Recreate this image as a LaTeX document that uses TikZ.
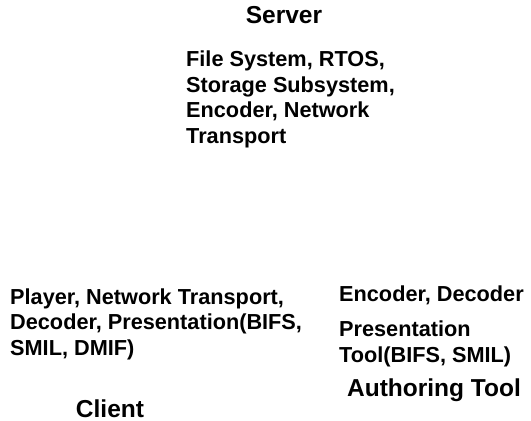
\documentclass[tikz,border=0pt]{standalone}
\usepackage{fontspec}
\setmainfont{Liberation Sans}
\begin{document}
\begin{tikzpicture}[x=1pt, y=-1pt,
    every node/.style={inner sep=0pt},
    part/.style={align=left, anchor=base west, font=\fontsize{21.7}{25.5}\selectfont\bfseries},
    heading/.style={anchor=base, font=\fontsize{24.5}{28}\selectfont\bfseries}]

    \useasboundingbox (0,0) rectangle (531,421);

    % headings
    \foreach \n/\t/\x/\y in {server/Server/284/23, client/Client/110/417, author/Authoring Tool/434/396}
    \node [heading] (\n) at (\x,\y) {\t};

    % parts (anchored on the baseline of the last line)
    \node [part] (server-parts) at (186,143) {File System, RTOS,\\Storage Subsystem,\\Encoder, Network\\Transport};
    \node [part] (client-parts) at (10,355) {Player, Network Transport,\\Decoder, Presentation(BIFS,\\SMIL, DMIF)};
    \node [part] (author-codec) at (339,301) {Encoder, Decoder};
    \node [part] (author-tool) at (339,362) {Presentation\\Tool(BIFS, SMIL)};

\end{tikzpicture}
\end{document}
